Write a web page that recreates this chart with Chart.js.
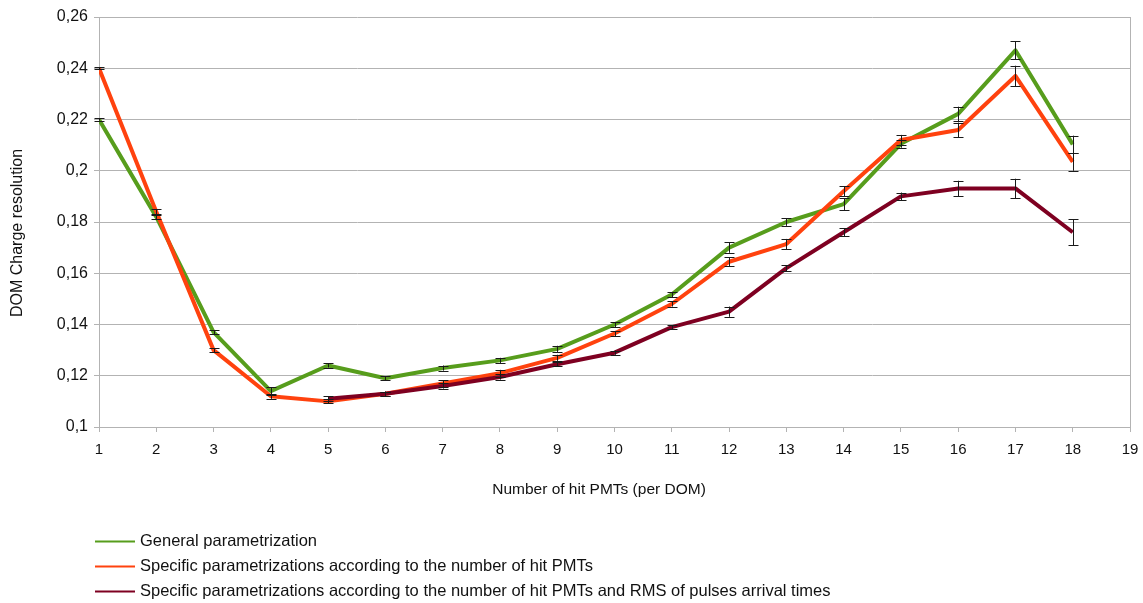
<!DOCTYPE html>
<html>
<head>
<meta charset="utf-8">
<script src="https://cdn.jsdelivr.net/npm/chart.js@4.4.1/dist/chart.umd.min.js"></script>
<style>
  html, body { margin: 0; padding: 0; background: #ffffff; }
  #wrap { width: 1143px; height: 603px; position: relative; }
</style>
</head>
<body>
<div id="wrap"><canvas id="chart" width="1143" height="603"></canvas></div>
<script>
// Number of hit PMTs in a DOM (x values)
const hitPMTs = [1, 2, 3, 4, 5, 6, 7, 8, 9, 10, 11, 12, 13, 14, 15, 16, 17, 18];

// General parametrization
const generalRes = [0.220, 0.182, 0.137, 0.114, 0.124, 0.119, 0.123, 0.126, 0.1305, 0.140, 0.1517, 0.170, 0.180, 0.187, 0.2105, 0.2222, 0.247, 0.2103];
const generalErr = [0.0004, 0.0008, 0.0008, 0.0015, 0.0008, 0.0008, 0.001, 0.001, 0.0012, 0.001, 0.001, 0.002, 0.0015, 0.0023, 0.0015, 0.0028, 0.0035, 0.0034];

// Specific parametrizations per number of hit PMTs
const specificRes = [0.240, 0.184, 0.130, 0.112, 0.110, 0.113, 0.117, 0.121, 0.127, 0.1365, 0.148, 0.1645, 0.1714, 0.192, 0.212, 0.2159, 0.237, 0.2035];
const specificErr = [0.0004, 0.001, 0.0008, 0.001, 0.0008, 0.0008, 0.0012, 0.0013, 0.0012, 0.001, 0.001, 0.0018, 0.002, 0.002, 0.002, 0.0029, 0.004, 0.0035];

// Specific parametrizations per number of hit PMTs and RMS of pulse arrival times
const rmsRes = [null, null, null, null, 0.111, 0.113, 0.116, 0.1195, 0.1245, 0.129, 0.139, 0.145, 0.162, 0.176, 0.190, 0.1931, 0.1931, 0.176];
const rmsErr = [null, null, null, null, 0.001, 0.0008, 0.001, 0.001, 0.0008, 0.0008, 0.0008, 0.002, 0.0012, 0.0015, 0.0015, 0.003, 0.0038, 0.005];

const seriesLabels = [
  'General parametrization',
  'Specific parametrizations according to the number of hit PMTs',
  'Specific parametrizations according to the number of hit PMTs and RMS of pulses arrival times'
];
const seriesColors = ['#579d1c', '#ff420e', '#7e0021'];

const xTitle = 'Number of hit PMTs (per DOM)';
const yTitle = 'DOM Charge resolution';

const FONT = '"Liberation Sans", Arial, sans-serif';
const GRID = '#b3b3b3';

function points(values) {
  return hitPMTs.map((x, i) => ({ x: x, y: values[i] }));
}

// Vertical error bars with caps, placed through the chart scales
const errorBars = {
  id: 'errorBars',
  afterDatasetsDraw(chart) {
    const { ctx, scales: { x, y } } = chart;
    ctx.save();
    ctx.strokeStyle = '#1a1a1a';
    ctx.lineWidth = 1;
    chart.data.datasets.forEach((ds) => {
      ds.data.forEach((p, i) => {
        const e = ds.errors[i];
        if (p.y == null || e == null) return;
        const px = Math.round(x.getPixelForValue(p.x)) + 0.5;
        const top = y.getPixelForValue(p.y + e);
        const bot = y.getPixelForValue(p.y - e);
        ctx.beginPath();
        ctx.moveTo(px, top); ctx.lineTo(px, bot);
        ctx.moveTo(px - 5, Math.round(top) + 0.5); ctx.lineTo(px + 5, Math.round(top) + 0.5);
        ctx.moveTo(px - 5, Math.round(bot) + 0.5); ctx.lineTo(px + 5, Math.round(bot) + 0.5);
        ctx.stroke();
      });
    });
    ctx.restore();
  }
};

// Right-hand frame line of the plot area
const frameRight = {
  id: 'frameRight',
  beforeDatasetsDraw(chart) {
    const { ctx, chartArea: a } = chart;
    ctx.save();
    ctx.strokeStyle = GRID;
    ctx.lineWidth = 1;
    ctx.beginPath();
    ctx.moveTo(Math.round(a.right) + 0.5, a.top);
    ctx.lineTo(Math.round(a.right) + 0.5, a.bottom);
    ctx.stroke();
    ctx.restore();
  }
};

// Axis titles and the stacked legend below the plot
const annotations = {
  id: 'annotations',
  afterDraw(chart) {
    const { ctx, chartArea: a } = chart;
    ctx.save();
    ctx.fillStyle = '#111111';
    ctx.textAlign = 'center';
    ctx.textBaseline = 'middle';
    ctx.font = '15.5px ' + FONT;
    ctx.fillText(xTitle, a.left + 500, a.bottom + 63);

    ctx.save();
    ctx.font = '16px ' + FONT;
    ctx.translate(18, a.top + 216);
    ctx.rotate(-Math.PI / 2);
    ctx.fillText(yTitle, 0, 0);
    ctx.restore();

    ctx.textAlign = 'left';
    ctx.font = '16.5px ' + FONT;
    chart.data.datasets.forEach((ds, i) => {
      const rowY = a.bottom + 114 + i * 25;
      ctx.strokeStyle = ds.borderColor;
      ctx.lineWidth = 2;
      ctx.beginPath();
      ctx.moveTo(95, rowY + 0.5);
      ctx.lineTo(135, rowY + 0.5);
      ctx.stroke();
      ctx.fillStyle = '#111111';
      ctx.fillText(ds.label, 140, rowY);
    });
    ctx.restore();
  }
};

const datasetValues = [generalRes, specificRes, rmsRes];
const datasetErrors = [generalErr, specificErr, rmsErr];

new Chart(document.getElementById('chart'), {
  type: 'line',
  data: {
    datasets: datasetValues.map((vals, i) => ({
      label: seriesLabels[i],
      data: points(vals),
      errors: datasetErrors[i],
      borderColor: seriesColors[i],
      backgroundColor: seriesColors[i],
      borderWidth: 4,
      borderJoinStyle: 'round',
      pointRadius: 0,
      fill: false,
      tension: 0,
      spanGaps: false,
      order: 3 - i
    }))
  },
  options: {
    responsive: false,
    animation: false,
    devicePixelRatio: 1,
    layout: { padding: { left: 0, top: 17, right: 13, bottom: 136 } },
    plugins: { legend: { display: false }, tooltip: { enabled: false } },
    scales: {
      x: {
        type: 'linear',
        min: 1,
        max: 19,
        ticks: {
          stepSize: 1,
          autoSkip: false,
          maxRotation: 0,
          padding: 9,
          color: '#111111',
          font: { family: FONT, size: 15 }
        },
        grid: { drawOnChartArea: false, drawTicks: true, tickLength: 5, color: GRID },
        border: { color: GRID },
        afterFit(scale) {
          scale.height = 40;
          scale.paddingLeft = 0;
          scale.paddingRight = 13;
        }
      },
      y: {
        min: 0.1,
        max: 0.26,
        ticks: {
          stepSize: 0.02,
          padding: 6,
          color: '#111111',
          font: { family: FONT, size: 16 },
          callback: (v) => String(+v.toFixed(2)).replace('.', ',')
        },
        grid: { color: GRID, tickLength: 5 },
        border: { color: GRID },
        afterFit(scale) { scale.width = 99; }
      }
    }
  },
  plugins: [frameRight, errorBars, annotations]
});
</script>
</body>
</html>
